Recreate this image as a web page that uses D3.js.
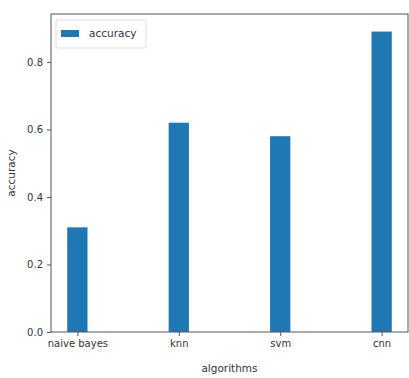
<!DOCTYPE html>
<html><head><meta charset="utf-8">
<script src="https://cdn.jsdelivr.net/npm/d3@7"></script>
<style>body{margin:0;background:#fff}svg{display:block}text{font-family:"DejaVu Sans",sans-serif;fill:#333}</style>
</head><body>
<script>
const categories = ["naive bayes","knn","svm","cnn"];
const accuracy = [0.31, 0.62, 0.58, 0.89];
const yTicks = [0.0, 0.2, 0.4, 0.6, 0.8];

const W = 409, H = 378;
const m = {left: 51, top: 14, right: 408, bottom: 332};
const svg = d3.select("body").append("svg").attr("width", W).attr("height", H);

const x = d3.scaleLinear().domain([-0.26, 3.26]).range([m.left, m.right]);
const y = d3.scaleLinear().domain([0, 0.942]).range([m.bottom, m.top]);
const bw = 0.2;

svg.selectAll("rect.bar").data(accuracy).join("rect").attr("class","bar")
  .attr("x", (d,i) => x(i - bw/2)).attr("width", x(bw) - x(0))
  .attr("y", d => y(d)).attr("height", d => y(0) - y(d))
  .attr("fill", "#1f77b4");

const yAxis = d3.axisLeft(y).tickValues(yTicks).tickFormat(d3.format(".1f")).tickSize(4).tickPadding(4);
const gy = svg.append("g").attr("transform", `translate(${m.left},0)`).call(yAxis);
const xAxis = d3.axisBottom(x).tickValues(d3.range(categories.length)).tickFormat(i => categories[i]).tickSize(4).tickPadding(4);
const gx = svg.append("g").attr("transform", `translate(0,${m.bottom})`).call(xAxis);
[gx, gy].forEach(g => {
  g.select(".domain").remove();
  g.selectAll("line").attr("stroke", "#555");
  g.selectAll("text").attr("font-size", 10).attr("fill", "#333");
});

svg.append("rect").attr("x", m.left).attr("y", m.top)
  .attr("width", m.right - m.left).attr("height", m.bottom - m.top)
  .attr("fill", "none").attr("stroke", "#555").attr("stroke-width", 1);

svg.append("text").attr("x", (m.left + m.right)/2).attr("y", 372)
  .attr("text-anchor", "middle").attr("font-size", 10.5).text("algorithms");
svg.append("text").attr("transform", `translate(15,${(m.top + m.bottom)/2}) rotate(-90)`)
  .attr("text-anchor", "middle").attr("font-size", 10.5).text("accuracy");

const lg = svg.append("g");
lg.append("rect").attr("x", 56).attr("y", 20).attr("width", 90).attr("height", 28)
  .attr("fill", "#fff").attr("stroke", "#ddd").attr("rx", 2);
lg.append("rect").attr("x", 61).attr("y", 30).attr("width", 18).attr("height", 7).attr("fill", "#1f77b4");
lg.append("text").attr("x", 89).attr("y", 37).attr("font-size", 10.5).text("accuracy");
</script>
</body></html>
